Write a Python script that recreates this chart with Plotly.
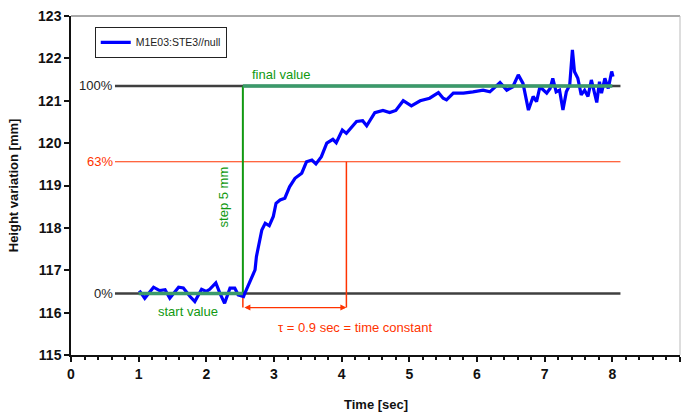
import plotly.graph_objects as go

# ---- data ----
time_s = [1.01, 1.09, 1.22, 1.31, 1.39, 1.46, 1.59, 1.66, 1.76, 1.83, 1.93, 2.00, 2.05, 2.14,
          2.20, 2.27, 2.35, 2.42, 2.47, 2.55, 2.57, 2.64, 2.72, 2.74, 2.77, 2.82, 2.87, 2.93,
          2.99, 3.03, 3.09, 3.16, 3.23, 3.31, 3.41, 3.48, 3.56, 3.62, 3.70, 3.78, 3.87, 3.92,
          4.01, 4.07, 4.22, 4.31, 4.37, 4.49, 4.61, 4.71, 4.80, 4.91, 5.03, 5.16, 5.30, 5.43,
          5.50, 5.55, 5.65, 5.80, 5.94, 6.09, 6.19, 6.34, 6.44, 6.53, 6.61, 6.68, 6.76, 6.83,
          6.88, 6.93, 7.03, 7.08, 7.12, 7.17, 7.22, 7.27, 7.32, 7.37, 7.41, 7.44, 7.49, 7.54,
          7.59, 7.64, 7.69, 7.73, 7.77, 7.81, 7.84, 7.89, 7.94, 7.99, 8.01]
height_mm = [116.52, 116.34, 116.60, 116.52, 116.54, 116.34, 116.60, 116.58, 116.38, 116.26,
             116.55, 116.50, 116.55, 116.70, 116.46, 116.22, 116.58, 116.58, 116.42, 116.38,
             116.46, 116.73, 117.01, 117.32, 117.56, 117.95, 118.11, 118.05, 118.27, 118.58,
             118.66, 118.70, 118.97, 119.17, 119.29, 119.56, 119.60, 119.51, 119.68, 120.00,
             120.09, 120.01, 120.31, 120.23, 120.51, 120.53, 120.41, 120.72, 120.77, 120.72,
             120.77, 121.00, 120.88, 121.00, 121.06, 121.19, 121.06, 121.02, 121.18, 121.18,
             121.21, 121.25, 121.21, 121.43, 121.25, 121.33, 121.61, 121.41, 120.78, 121.10,
             120.98, 121.33, 121.18, 121.29, 121.53, 121.21, 121.25, 120.78, 121.21, 121.37,
             122.20, 121.69, 121.53, 121.14, 121.25, 121.10, 121.49, 121.21, 120.96, 121.45,
             121.18, 121.53, 121.29, 121.69, 121.57]

series_name = "M1E03:STE3//null"
start_value = 116.45
final_value = 121.35
level_63 = 119.56
step_time = 2.54
tau_end_time = 4.07
arrow_level = 116.12
ref_line_span = [0.65, 8.12]
start_span = [1.0, 2.54]
final_span = [2.54, 8.0]

x_range = [0, 9]
y_range = [115, 123]

GRAY = "#3f3f3f"
RED = "#FF3300"
SEA = "#3A9A6A"
GREEN = "#119911"
FONT = "Liberation Sans, Arial, sans-serif"

fig = go.Figure()

fig.add_trace(go.Scatter(x=time_s, y=height_mm, mode="lines", name=series_name,
                         line=dict(color="#0000FF", width=3.2)))

def hline(x0, x1, y, color, width):
    fig.add_shape(type="line", xref="x", yref="y", x0=x0, x1=x1, y0=y, y1=y,
                  line=dict(color=color, width=width), layer="below")

def vline(x, y0, y1, color, width):
    fig.add_shape(type="line", xref="x", yref="y", x0=x, x1=x, y0=y0, y1=y1,
                  line=dict(color=color, width=width), layer="below")

hline(ref_line_span[0], ref_line_span[1], final_value, GRAY, 2.5)
hline(ref_line_span[0], ref_line_span[1], start_value, GRAY, 2.5)
hline(ref_line_span[0], ref_line_span[1], level_63, RED, 1.2)
vline(step_time, start_value, final_value, GREEN, 2)
vline(tau_end_time, level_63, arrow_level, RED, 1.5)
vline(step_time, start_value, arrow_level, RED, 1.5)

fig.add_trace(go.Scatter(x=start_span, y=[start_value, start_value], mode="lines",
                         line=dict(color=SEA, width=3.5), showlegend=False, hoverinfo="skip"))
fig.add_trace(go.Scatter(x=final_span, y=[final_value, final_value], mode="lines",
                         line=dict(color=SEA, width=3.5), showlegend=False, hoverinfo="skip"))

# double arrow for tau
fig.add_annotation(x=tau_end_time, y=arrow_level, ax=step_time, ay=arrow_level,
                   xref="x", yref="y", axref="x", ayref="y", text="",
                   showarrow=True, arrowhead=2, arrowside="end+start",
                   arrowsize=1, arrowwidth=1.2, arrowcolor=RED)

def label(x, y, text, color, xanchor="left", angle=0, size=12):
    fig.add_annotation(x=x, y=y, xref="x", yref="y", text=text, showarrow=False,
                       xanchor=xanchor, yanchor="middle", textangle=angle,
                       font=dict(family=FONT, size=size, color=color))

label(0.65, final_value, "100%", "#222222", xanchor="right", size=13)
label(0.65, level_63, "63%", RED, xanchor="right", size=13)
label(0.65, start_value, "0%", "#222222", xanchor="right", size=13)
label(2.64, 121.61, "final value", GREEN, size=13)
label(1.73, 116.03, "start value", GREEN, xanchor="center", size=13)
label(2.26, 118.74, "step 5 mm", GREEN, xanchor="center", angle=-90, size=13)
label(3.03, 115.64, "τ = 0.9 sec = time constant", RED, size=13)

fig.add_annotation(x=0.5, y=-0.145, xref="paper", yref="paper", text="<b>Time [sec]</b>",
                   showarrow=False, xanchor="center", yanchor="middle",
                   font=dict(family=FONT, size=13, color="#111"))
fig.add_annotation(x=-0.094, y=0.5, xref="paper", yref="paper",
                   text="<b>Height variation [mm]</b>", textangle=-90,
                   showarrow=False, xanchor="center", yanchor="middle",
                   font=dict(family=FONT, size=13, color="#111"))

# top and right frame lines
fig.add_shape(type="line", xref="paper", yref="paper", x0=0, x1=1, y0=1, y1=1,
              line=dict(color="#555555", width=1))
fig.add_shape(type="line", xref="paper", yref="paper", x0=1, x1=1, y0=0, y1=1,
              line=dict(color="#bbbbbb", width=1))

fig.update_layout(
    width=681, height=412,
    margin=dict(l=71, r=1, t=16, b=57),
    paper_bgcolor="white", plot_bgcolor="white",
    font=dict(family=FONT, color="#111"),
    showlegend=True,
    legend=dict(x=0.039, y=0.968, xanchor="left", yanchor="top",
                bordercolor="#222", borderwidth=1, bgcolor="white",
                font=dict(family=FONT, size=10.5, color="#222"),
                itemwidth=30, tracegroupgap=0),
    xaxis=dict(range=x_range, dtick=1, tick0=0, showgrid=False, zeroline=False,
               showline=True, linecolor="#111", linewidth=1.5,
               ticks="outside", ticklen=5, tickcolor="#111", tickwidth=1.5,
               minor=dict(dtick=0.2, ticks="outside", ticklen=3, tickcolor="#111"),
               tickfont=dict(family=FONT, size=14, color="#111", weight="bold")),
    yaxis=dict(range=y_range, dtick=1, showgrid=False, zeroline=False,
               showline=True, linecolor="#111", linewidth=1.5,
               ticks="outside", ticklen=5, tickcolor="#111", tickwidth=1.5,
               tickfont=dict(family=FONT, size=14, color="#111", weight="bold")),
)

fig.write_html("out.html", config={"displayModeBar": False},
               post_script="document.body.style.margin='0';document.body.style.overflow='hidden';")
